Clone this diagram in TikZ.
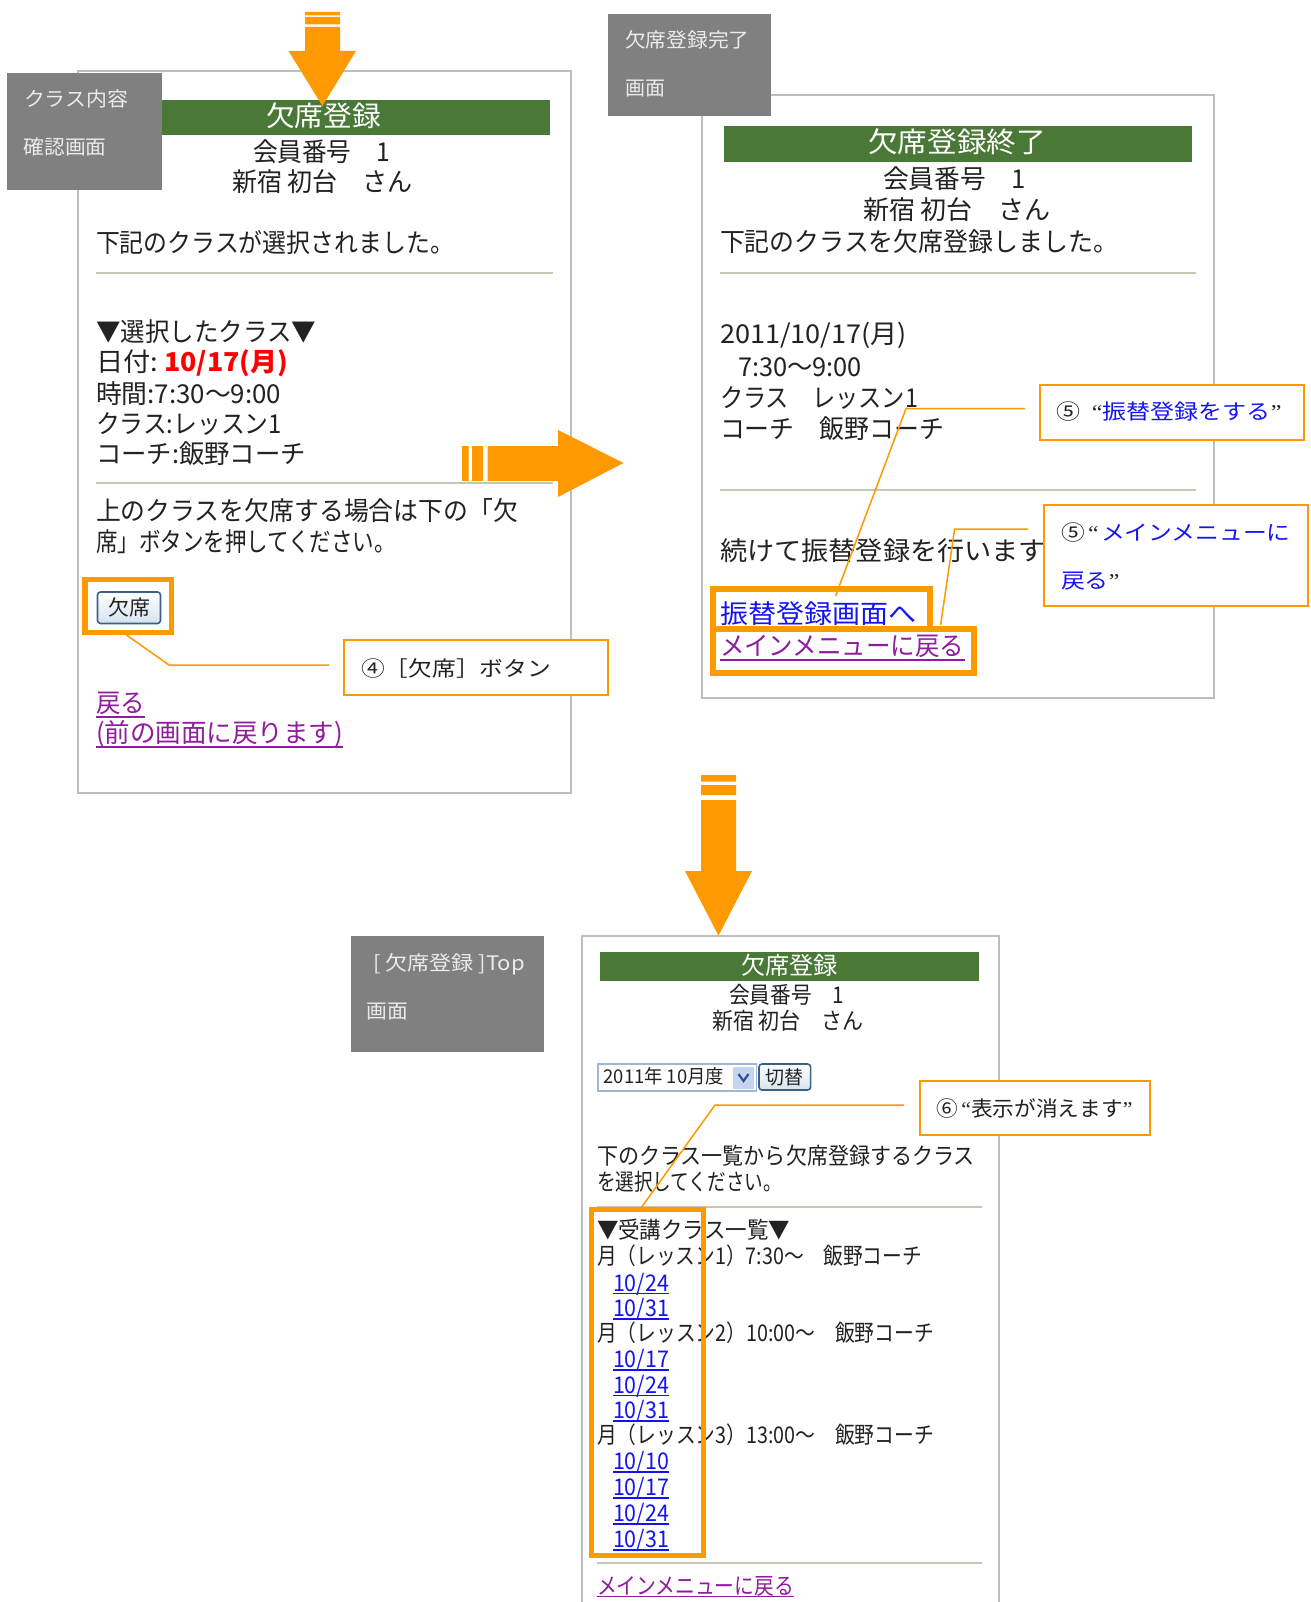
\documentclass[tikz,border=0pt]{standalone}
\usepackage{fontspec}
\usepackage{graphicx}
\setmainfont{Noto Sans CJK JP}
\newfontfamily\qf{Liberation Serif}
\definecolor{orng}{HTML}{FF9900}
\definecolor{grn}{HTML}{4A7836}
\definecolor{gbox}{HTML}{808080}
\definecolor{pbord}{HTML}{BEBEBE}
\definecolor{rulec}{HTML}{C8C5B2}
\definecolor{lnk}{HTML}{1414F0}
\definecolor{vis}{HTML}{8E1C9C}
\definecolor{ink}{HTML}{222222}
\definecolor{btnline}{HTML}{3C6186}
\definecolor{btnfill}{HTML}{D5E3EE}
\definecolor{selline}{HTML}{9DB8D5}
\definecolor{selfill}{HTML}{C5D5EE}
\definecolor{selmark}{HTML}{2F4F9F}
\newcommand\boxnode[6]{\pgfmathsetmacro\bw{#5-#3}\pgfmathsetmacro\bh{#6-#4}\node[#1,minimum width=\bw pt,minimum height=\bh pt,anchor=north west] (#2) at (#3,#4) {};}
\newcommand\tl[6]{\node[#1,anchor=west] (#2) at (#3,#4) {\resizebox{#5pt}{\height}{#6}};}
\newcommand\ul[5]{\draw[#1,line width=1.5pt] (#2,#4) -- (#3,#4);}
\tikzset{
  every node/.style={inner sep=0pt,outer sep=0pt},
  big/.style={font=\fontsize{26}{30}\selectfont,text=ink,text height=24pt,text depth=4pt},
  mid/.style={font=\fontsize{23}{27}\selectfont,text=ink,text height=20.5pt,text depth=3.5pt},
  small/.style={font=\fontsize{19}{23}\selectfont,text=ink,text height=16.5pt,text depth=3pt},
  title/.style={font=\fontsize{28}{32}\selectfont,text=white,text height=25pt,text depth=4pt},
  titlem/.style={font=\fontsize{24}{28}\selectfont,text=white,text height=21.5pt,text depth=3.5pt},
  grey/.style={font=\fontsize{20}{24}\selectfont,text=white!92!black,text height=19pt,text depth=3pt},
  call/.style={font=\fontsize{21}{25}\selectfont,text=ink,text height=19pt,text depth=3pt},
  panel/.style={draw=pbord,line width=2pt,fill=white},
  greybox/.style={fill=gbox},
  bar/.style={fill=grn},
  markbox/.style={draw=orng,line width=5.5pt},
  callbox/.style={draw=orng,line width=1.6pt,fill=white},
  btn/.style={draw=btnline,line width=1.6pt,rounded corners=3pt,top color=white,bottom color=btnfill},
  wire/.style={draw=orng,line width=1.5pt},
  hr/.style={draw=rulec,line width=2.5pt},
  arr/.style={fill=orng},
}
\begin{document}
\begin{tikzpicture}[x=1pt,y=-1pt]
\useasboundingbox (0,0) rectangle (1310,1602);
% panels
\boxnode{panel}{p1}{78}{71.5}{571}{793}
\boxnode{panel}{p2}{702}{95.5}{1213.5}{698}
\boxnode{panel}{p3}{582}{936}{999}{1640}
% panel 1
\boxnode{bar}{bar1}{96}{100.5}{550}{135}
\tl{title}{t1}{266}{116}{115}{欠席登録}
\tl{big}{t2}{253}{152}{137}{会員番号　1}
\tl{big}{t3}{232}{182}{181}{新宿 初台　さん}
\tl{big}{t4}{96}{243}{358}{下記のクラスが選択されました。}
\draw[hr] (96,273) -- (553,273);
\tl{big}{t5}{96}{331}{220}{▼選択したクラス▼}
\tl{big}{t6}{96}{361}{62}{日付:}
\tl{big}{t6b}{164}{361}{124}{\textcolor{red}{\textbf{10/17(月)}}}
\tl{big}{t7}{96}{393}{185}{時間:7:30〜9:00}
\tl{big}{t8}{96}{423}{186}{クラス:レッスン1}
\tl{big}{t9}{96}{453}{210}{コーチ:飯野コーチ}
\draw[hr] (96,483) -- (553,483);
\tl{big}{t10}{96}{510}{422}{上のクラスを欠席する場合は下の「欠}
\tl{big}{t11}{96}{541}{300}{席」ボタンを押してください。}
\boxnode{btn}{b1}{97.5}{592}{160.5}{623.5}
\node[font=\fontsize{21}{25}\selectfont,text=ink] (b1t) at (b1.center) {欠席};
\tl{big,text=vis}{t12}{96}{702}{49}{戻る}
\ul{vis}{96}{145}{717}{}
\tl{big,text=vis}{t13}{96}{732}{247}{(前の画面に戻ります)}
\ul{vis}{96}{343}{747}{}
\boxnode{markbox}{m1}{85}{579.5}{171.5}{632.5}
\boxnode{greybox}{g1}{7}{73}{162}{190}
\tl{grey}{g1a}{24}{98.5}{104}{クラス内容}
\tl{grey}{g1b}{23.6}{147}{83}{確認画面}
% panel 2
\boxnode{bar}{bar2}{724}{126}{1192}{162}
\tl{title}{u1}{868}{142}{178}{欠席登録終了}
\tl{big}{u2}{883}{179}{143}{会員番号　1}
\tl{big}{u3}{863}{210}{188}{新宿 初台　さん}
\tl{big}{u4}{720}{242}{398}{下記のクラスを欠席登録しました。}
\draw[hr] (720,273) -- (1195.5,273);
\tl{big}{u5}{720}{334}{187}{2011/10/17(月)}
\tl{big}{u6}{738}{366}{124}{7:30〜9:00}
\tl{big}{u7}{720}{397}{198}{クラス　レッスン1}
\tl{big}{u8}{720}{428}{224}{コーチ　飯野コーチ}
\draw[hr] (720,490) -- (1195.5,490);
\tl{big}{u9}{720}{550}{326}{続けて振替登録を行います}
\tl{big,text=lnk}{u10}{720}{613}{196}{振替登録画面へ}
\tl{big,text=vis}{u11}{720}{645}{244}{メインメニューに戻る}
\ul{vis}{720}{964.5}{660}{}
\boxnode{markbox}{m2}{712.8}{588.8}{930}{628.6}
\boxnode{markbox}{m3}{712.8}{628.8}{974}{673.2}
\boxnode{greybox}{g2}{608}{14}{771}{116}
\tl{grey}{g2a}{625}{40}{124.5}{欠席登録完了}
\tl{grey}{g2b}{625}{88}{40}{画面}
% panel 3
\boxnode{bar}{bar3}{600}{952}{979}{981}
\tl{titlem}{v1}{741}{965}{97}{欠席登録}
\tl{mid}{v2}{729}{995}{115}{会員番号　1}
\tl{mid}{v3}{712}{1020.5}{152}{新宿 初台　さん}
\boxnode{draw=selline,line width=1.3pt,fill=white}{sel}{598}{1064}{756.6}{1091}
\tl{small}{sela}{603.6}{1077}{120.4}{2011年 10月度}
\boxnode{fill=selfill}{selb}{733}{1067}{754}{1089}
\draw[draw=selmark,line width=2.2pt] (738.5,1074) -- (743.5,1081) -- (748.5,1074);
\boxnode{btn}{b2}{759}{1064}{810.6}{1090}
\node[font=\fontsize{19}{23}\selectfont,text=ink] (b2t) at (b2.center) {切替};
\tl{mid}{v4}{597}{1156}{378}{下のクラス一覧から欠席登録するクラス}
\tl{mid}{v5}{597}{1181.6}{185}{を選択してください。}
\draw[hr,line width=2pt] (597,1207) -- (981.6,1207);
\tl{mid}{v6}{597}{1230}{193}{▼受講クラス一覧▼}
\tl{mid}{v7}{597}{1256}{325}{月（レッスン1）7:30〜　飯野コーチ}
\tl{mid}{v8}{597}{1333}{337}{月（レッスン2）10:00〜　飯野コーチ}
\tl{mid}{v9}{597}{1435}{337}{月（レッスン3）13:00〜　飯野コーチ}
\tl{mid,text=lnk}{d1}{613}{1282.5}{56}{10/24}\ul{lnk}{613}{669}{1293.5}{}
\tl{mid,text=lnk}{d2}{613}{1308}{56}{10/31}\ul{lnk}{613}{669}{1319}{}
\tl{mid,text=lnk}{d3}{613}{1359}{56}{10/17}\ul{lnk}{613}{669}{1370}{}
\tl{mid,text=lnk}{d4}{613}{1384.6}{56}{10/24}\ul{lnk}{613}{669}{1395.5}{}
\tl{mid,text=lnk}{d5}{613}{1410}{56}{10/31}\ul{lnk}{613}{669}{1421}{}
\tl{mid,text=lnk}{d6}{613}{1461}{56}{10/10}\ul{lnk}{613}{669}{1472}{}
\tl{mid,text=lnk}{d7}{613}{1487}{56}{10/17}\ul{lnk}{613}{669}{1498}{}
\tl{mid,text=lnk}{d8}{613}{1513}{56}{10/24}\ul{lnk}{613}{669}{1524}{}
\tl{mid,text=lnk}{d9}{613}{1539}{56}{10/31}\ul{lnk}{613}{669}{1550}{}
\draw[hr,line width=2pt] (597,1563) -- (981.6,1563);
\tl{mid,text=vis}{v10}{597}{1585.5}{197}{メインメニューに戻る}
\ul{vis}{597}{794}{1596.5}{}
\boxnode{markbox}{m4}{591.7}{1209.7}{703.3}{1555.3}
\boxnode{greybox}{g3}{351}{936}{544}{1052}
\tl{grey}{g3a}{373}{962}{152}{[ 欠席登録 ]Top}
\tl{grey}{g3b}{366.5}{1010}{41.5}{画面}
% flow arrows
\fill[arr] (305,12) rectangle (340,15.5) (305,17) rectangle (340,24.5);
\fill[arr] (305,27) -- (340,27) -- (340,51) -- (356,51) -- (322.5,106) -- (288.5,51) -- (305,51) -- cycle;
\fill[arr] (462,446) rectangle (468.5,481) (472,446) rectangle (483,481);
\fill[arr] (487.5,446) -- (558,446) -- (558,430) -- (623.5,463) -- (558,497) -- (558,481) -- (487.5,481) -- cycle;
\fill[arr] (701,775) rectangle (736,781.5) (701,785) rectangle (736,795);
\fill[arr] (701,800) -- (736,800) -- (736,871) -- (752,871) -- (718.5,935.6) -- (685,871) -- (701,871) -- cycle;
% callouts
\boxnode{callbox}{c4}{344}{640}{608}{695}
\tl{call}{c4t}{361}{668}{190}{④［欠席］ボタン}
\boxnode{callbox}{c5a}{1040}{385}{1304}{440}
\tl{call}{c5at}{1056.5}{411}{225}{⑤\hspace{10pt}{\qf “}\textcolor{lnk}{振替登録をする}{\qf ”}}
\boxnode{callbox}{c5b}{1044}{505}{1308}{606}
\tl{call}{c5bt}{1061}{532.6}{229.7}{⑤{\hspace{3pt}\qf “}\hspace{2pt}\textcolor{lnk}{メインメニューに}}
\tl{call}{c5bu}{1061}{580}{58.5}{\textcolor{lnk}{戻る}{\qf ”}}
\boxnode{callbox}{c6}{919.7}{1081}{1150}{1135}
\tl{call}{c6t}{936.6}{1108}{196}{⑥\hspace{3pt}{\qf “}表示が消えます{\qf ”}}
% connectors
\coordinate (k1a) at (126.5,635);
\coordinate (k1b) at (169,665);
\coordinate (k1c) at (329,665);
\draw[wire] (k1a) -- (k1b) -- (k1c);
\coordinate (k2a) at (835.5,596);
\coordinate (k2b) at (906,408.6);
\coordinate (k2c) at (1025,408.6);
\draw[wire] (k2a) -- (k2b) -- (k2c);
\coordinate (k3a) at (940.6,625);
\coordinate (k3b) at (954.6,529);
\coordinate (k3c) at (1028,529);
\draw[wire] (k3a) -- (k3b) -- (k3c);
\coordinate (k4a) at (641.7,1207);
\coordinate (k4b) at (715,1105);
\coordinate (k4c) at (904,1105);
\draw[wire] (k4a) -- (k4b) -- (k4c);
\end{tikzpicture}
\end{document}
